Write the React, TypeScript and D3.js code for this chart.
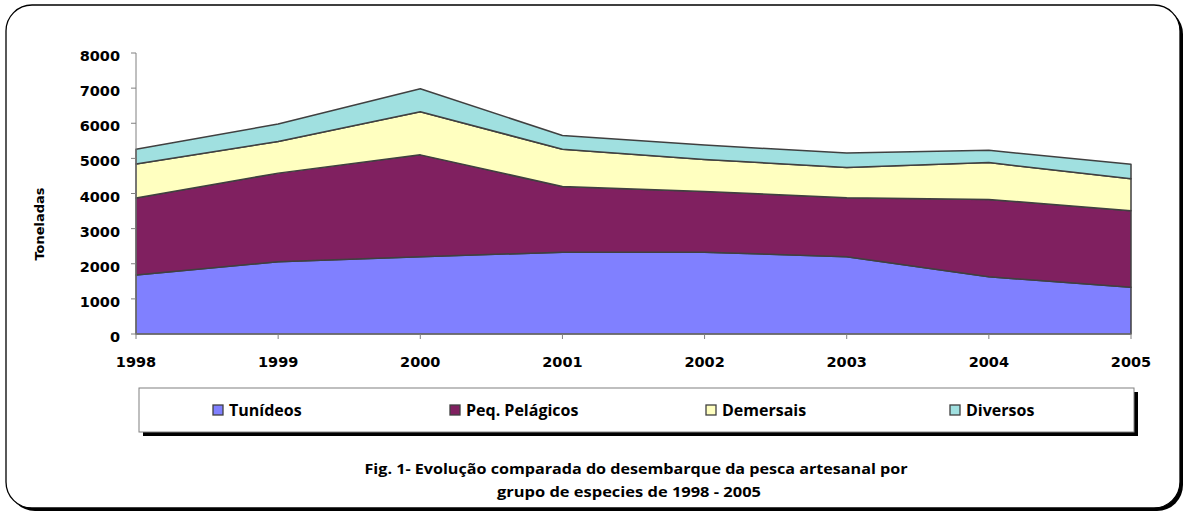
import * as d3 from "d3";
import { useEffect, useRef } from "react";

// Landing data, tonnes per year and group
const years = [1998, 1999, 2000, 2001, 2002, 2003, 2004, 2005];
const tunideos = [1680, 2060, 2200, 2330, 2330, 2200, 1630, 1330];
const peqPelagicos = [2190, 2520, 2900, 1870, 1730, 1680, 2200, 2180];
const demersais = [970, 900, 1230, 1060, 910, 860, 1050, 910];
const diversos = [420, 500, 650, 390, 410, 410, 350, 410];

const seriesNames = ["Tunídeos", "Peq. Pelágicos", "Demersais", "Diversos"];
const seriesColors = ["#8080FF", "#802060", "#FFFFC0", "#A0E0E0"];
const yTicks = [0, 1000, 2000, 3000, 4000, 5000, 6000, 7000, 8000];
const titleLines = [
  "Fig. 1- Evolução comparada do desembarque da pesca artesanal por",
  "grupo de especies de 1998 - 2005",
];

const W = 1186;
const H = 513;

const App = () => {
  const ref = useRef<SVGSVGElement>(null);

  useEffect(() => {
    if (!ref.current) return;
    const svg = d3.select(ref.current);
    svg.selectAll("*").remove();

    // --- Outer frame with shadow ---
    svg.append("rect")
      .attr("x", 9).attr("y", 8).attr("width", 1174).attr("height", 503)
      .attr("rx", 26).attr("fill", "#000");
    svg.append("rect")
      .attr("x", 6).attr("y", 5).attr("width", 1174).attr("height", 503)
      .attr("rx", 26).attr("fill", "#fff").attr("stroke", "#000").attr("stroke-width", 1.3);

    // --- Scales ---
    const x = d3.scaleLinear().domain([1998, 2005]).range([136, 1131]);
    const y = d3.scaleLinear().domain([0, 8000]).range([334, 53]);

    const table = years.map((yr, i) => ({
      year: yr,
      [seriesNames[0]]: tunideos[i],
      [seriesNames[1]]: peqPelagicos[i],
      [seriesNames[2]]: demersais[i],
      [seriesNames[3]]: diversos[i],
    }));
    const stack = d3.stack<any>().keys(seriesNames);
    const layers = stack(table);

    const area = d3.area<any>()
      .x((d) => x(d.data.year))
      .y0((d) => y(d[0]))
      .y1((d) => y(d[1]));

    svg.append("g")
      .selectAll("path")
      .data(layers)
      .join("path")
      .attr("d", area)
      .attr("fill", (_d, i) => seriesColors[i])
      .attr("stroke", "#404040")
      .attr("stroke-width", 1.5)
      .attr("stroke-linejoin", "round");

    // --- Axes ---
    const axisFont = "'DejaVu Sans', Verdana, sans-serif";
    const gy = svg.append("g");
    gy.append("line")
      .attr("x1", 136).attr("x2", 136).attr("y1", y(8000)).attr("y2", y(0))
      .attr("stroke", "#808080").attr("stroke-width", 1);
    gy.selectAll("line.t")
      .data(yTicks)
      .join("line")
      .attr("class", "t")
      .attr("x1", 131).attr("x2", 136)
      .attr("y1", (d) => y(d)).attr("y2", (d) => y(d))
      .attr("stroke", "#808080");
    gy.selectAll("text")
      .data(yTicks)
      .join("text")
      .attr("x", 120)
      .attr("y", (d) => y(d) + 8)
      .attr("text-anchor", "end")
      .attr("font-family", axisFont)
      .attr("font-weight", "bold")
      .attr("font-size", 14.5)
      .text((d) => d);

    const gx = svg.append("g");
    gx.append("line")
      .attr("x1", 136).attr("x2", 1131).attr("y1", 334).attr("y2", 334)
      .attr("stroke", "#808080");
    gx.selectAll("line.t")
      .data(years)
      .join("line")
      .attr("class", "t")
      .attr("x1", (d) => x(d)).attr("x2", (d) => x(d))
      .attr("y1", 334).attr("y2", 339)
      .attr("stroke", "#808080");
    gx.selectAll("text")
      .data(years)
      .join("text")
      .attr("x", (d) => x(d))
      .attr("y", 367)
      .attr("text-anchor", "middle")
      .attr("font-family", axisFont)
      .attr("font-weight", "bold")
      .attr("font-size", 14.5)
      .text((d) => d);

    svg.append("text")
      .attr("transform", "translate(44,224) rotate(-90)")
      .attr("text-anchor", "middle")
      .attr("font-family", axisFont)
      .attr("font-weight", "bold")
      .attr("font-size", 11.5)
      .attr("textLength", 73)
      .attr("lengthAdjust", "spacingAndGlyphs")
      .text("Toneladas");

    // --- Legend ---
    const lg = svg.append("g");
    lg.append("rect")
      .attr("x", 143).attr("y", 392).attr("width", 995).attr("height", 44)
      .attr("fill", "#000");
    lg.append("rect")
      .attr("x", 139).attr("y", 388).attr("width", 995).attr("height", 44)
      .attr("fill", "#fff").attr("stroke", "#808080").attr("stroke-width", 1);

    const legendX = [213, 450, 706, 950];
    const item = lg.selectAll("g.item")
      .data(seriesNames)
      .join("g")
      .attr("class", "item")
      .attr("transform", (_d, i) => `translate(${legendX[i]},410)`);
    item.append("rect")
      .attr("x", 0).attr("y", -5).attr("width", 10).attr("height", 10)
      .attr("fill", (_d, i) => seriesColors[i])
      .attr("stroke", "#404040").attr("stroke-width", 1.3);
    item.append("text")
      .attr("x", 16).attr("y", 6)
      .attr("font-family", "'Open Sans', sans-serif")
      .attr("font-weight", "bold")
      .attr("font-size", 16)
      .text((d) => d);

    // --- Caption ---
    svg.selectAll("text.title")
      .data(titleLines)
      .join("text")
      .attr("class", "title")
      .attr("x", (_d, i) => (i === 0 ? 636 : 629))
      .attr("y", (_d, i) => 474 + i * 23)
      .attr("text-anchor", "middle")
      .attr("font-family", "'Open Sans', sans-serif")
      .attr("font-weight", "bold")
      .attr("font-size", 14.5)
      .attr("textLength", (_d, i) => (i === 0 ? 543 : 264))
      .attr("lengthAdjust", "spacingAndGlyphs")
      .text((d) => d);
  }, []);

  return (
    <svg
      ref={ref}
      width={W}
      height={H}
      style={{ position: "absolute", left: 0, top: 0, background: "#fff" }}
    />
  );
};

export default App;
